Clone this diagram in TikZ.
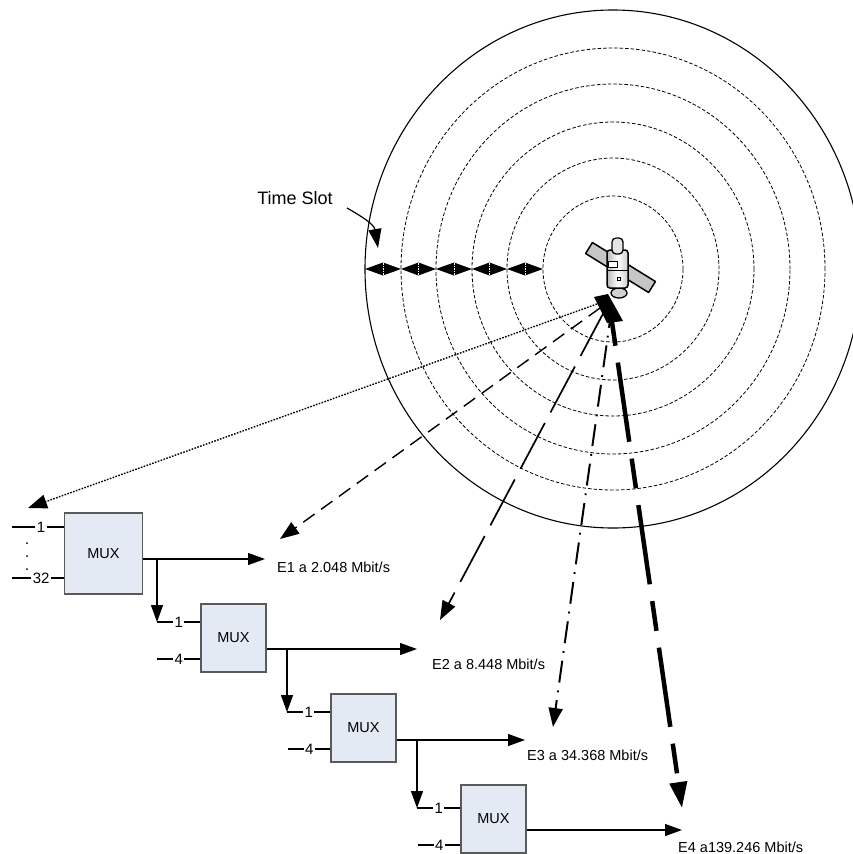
\documentclass[tikz,border=0pt]{standalone}
\usepackage{fontspec}
\setmainfont{Liberation Sans}
\usetikzlibrary{arrows.meta}
\definecolor{muxfill}{HTML}{E4EAF4}
\definecolor{muxline}{HTML}{5A5A5A}
\tikzset{
	muxbox/.style={draw=muxline, fill=muxfill, line width=1.1pt, inner sep=0pt, font=\fontsize{14.5}{17}\selectfont},
	lab/.style={fill=white, inner sep=1.5pt, font=\fontsize{15}{17}\selectfont},
	rate/.style={anchor=west, inner sep=0pt, font=\fontsize{14.5}{17}\selectfont},
	wire/.style={line width=1.2pt},
	arr/.style={line width=1.2pt, -{Triangle[length=17pt,width=12pt]}},
	ring/.style={line width=0.8pt, dash pattern=on 3.5pt off 2pt},
	beam/.style={-{Triangle[length=19pt,width=14pt]}}
}
\begin{document}
\begin{tikzpicture}[x=1pt,y=-1pt]
	\fill[white] (0,0) rectangle (852,854);
	\useasboundingbox (0,0) rectangle (852,854);
% coverage rings
	\draw[line width=1.1pt] (613,269) ellipse (248pt and 259pt);
	\foreach \rx/\ry in {212/221, 177/185, 141/147, 106/111, 70/73}
		\draw[ring] (613,269) ellipse (\rx pt and \ry pt);
% time slots
	\foreach \a/\b in {365/401, 401/436, 436/472, 472/507, 507/543} {
		\fill (\a,269) -- ({(\a+\b)/2},262.5) -- (\b,269) -- ({(\a+\b)/2},275.5) -- cycle;
		\draw[white, line width=0.4pt, dash pattern=on 1.5pt off 1pt] ({(\a+\b)/2},263) -- ({(\a+\b)/2},275);
	}
	\node[font=\fontsize{18}{21}\selectfont, inner sep=0pt] (tslot) at (295,198) {Time Slot};
	\coordinate (slotA) at (347,208);
	\coordinate (slotB) at (378,248);
	\draw[line width=1.2pt, -{Triangle[length=19pt,width=13pt]}] (slotA) .. controls (361,216) and (374,224) .. (slotB);
% multiplexers
	\node[muxbox, minimum width=78pt, minimum height=81pt] (mux1) at (103.5,553.5) {MUX};
	\node[muxbox, minimum width=65pt, minimum height=68pt] (mux2) at (233.5,638) {MUX};
	\node[muxbox, minimum width=65pt, minimum height=68pt] (mux3) at (363.5,728) {MUX};
	\node[muxbox, minimum width=65pt, minimum height=68pt] (mux4) at (493.5,819) {MUX};
% tributaries into the first one
	\coordinate (in1a) at (12,527);
	\coordinate (in1b) at (12,578);
	\draw[wire] (in1a) -- node[lab, pos=0.56] {1} (mux1.west |- in1a);
	\draw[wire] (in1b) -- node[lab, pos=0.56] {32} (mux1.west |- in1b);
	\foreach \y in {543,556,569}
		\fill (27,\y) circle (1pt);
% outputs and branches
	\coordinate (out1) at (265,559);
	\coordinate (out2) at (417,649);
	\coordinate (out3) at (525,740);
	\coordinate (out4) at (682,830);
	\draw[arr] (mux1.east |- out1) -- (out1);
	\draw[arr] (mux2.east |- out2) -- (out2);
	\draw[arr] (mux3.east |- out3) -- (out3);
	\draw[arr] (mux4.east |- out4) -- (out4);
	\coordinate (br1) at (157,559);
	\coordinate (dn1) at (157,622);
	\coordinate (br2) at (287,649);
	\coordinate (dn2) at (287,712);
	\coordinate (br3) at (417,740);
	\coordinate (dn3) at (417,808);
	\draw[arr] (br1) -- (dn1);
	\draw[arr] (br2) -- (dn2);
	\draw[arr] (br3) -- (dn3);
	\draw[wire] (dn1) -- node[lab] {1} (mux2.west |- dn1);
	\draw[wire] (dn2) -- node[lab] {1} (mux3.west |- dn2);
	\draw[wire] (dn3) -- node[lab] {1} (mux4.west |- dn3);
	\coordinate (in2b) at (157,659);
	\coordinate (in3b) at (288,749);
	\coordinate (in4b) at (418,845);
	\draw[wire] (in2b) -- node[lab] {4} (mux2.west |- in2b);
	\draw[wire] (in3b) -- node[lab] {4} (mux3.west |- in3b);
	\draw[wire] (in4b) -- node[lab] {4} (mux4.west |- in4b);
	\node[rate] (e1) at (277,567) {E1 a 2.048 Mbit/s};
	\node[rate] (e2) at (432,664) {E2 a 8.448 Mbit/s};
	\node[rate] (e3) at (527,755) {E3 a 34.368 Mbit/s};
	\node[rate] (e4) at (678,847) {E4 a139.246 Mbit/s};
% links down from the satellite
	\coordinate (s0) at (597,304);
	\coordinate (s1) at (600,308);
	\coordinate (s2) at (605,310);
	\coordinate (s3) at (612,306);
	\coordinate (s4) at (612,322);
	\coordinate (t0) at (28,508);
	\coordinate (t1) at (280,539);
	\coordinate (t2) at (440,620);
	\coordinate (t3) at (553,727);
	\coordinate (t4) at (682,808);
	\draw[beam, line width=1.4pt, dash pattern=on 1.6pt off 1.4pt] (s0) -- (t0);
	\draw[beam, line width=1.4pt, dash pattern=on 14pt off 8pt] (s1) -- (t1);
	\draw[beam, line width=1.7pt, dash pattern=on 52pt off 12pt] (s2) -- (t2);
	\draw[beam, line width=2pt, dash pattern=on 22pt off 8pt on 1.8pt off 8pt] (s3) -- (t3);
	\draw[line width=4.5pt, dash pattern=on 30pt off 17pt on 80pt off 17pt, dash phase=6pt, -{Triangle[length=26pt,width=17pt]}] (s4) -- (t4);
	\fill (594,297) -- (608,294) -- (623,321) -- (607,323) -- cycle;
% satellite
	\filldraw[fill=gray!45, line width=1.5pt, line join=round] (585.6,253.5) -- (592.4,242.5) -- (655.4,281.5) -- (648.6,292.5) -- cycle;
	\filldraw[fill=gray!35, line width=1.3pt] (619,293) ellipse (8pt and 5pt);
	\filldraw[line width=1.5pt, rounded corners=3pt, shading=axis, left color=gray!55, right color=gray!40, middle color=white] (607,250) rectangle (628,288);
	\draw[line width=1pt] (607,270) -- (628,270);
	\draw[line width=1pt, fill=white] (608,261) rectangle (617,267);
	\draw[line width=0.8pt] (617,277) rectangle (620,280);
	\filldraw[fill=gray!20, line width=1.3pt, rounded corners=4pt] (612,254) rectangle (623,238);
\end{tikzpicture}
\end{document}
